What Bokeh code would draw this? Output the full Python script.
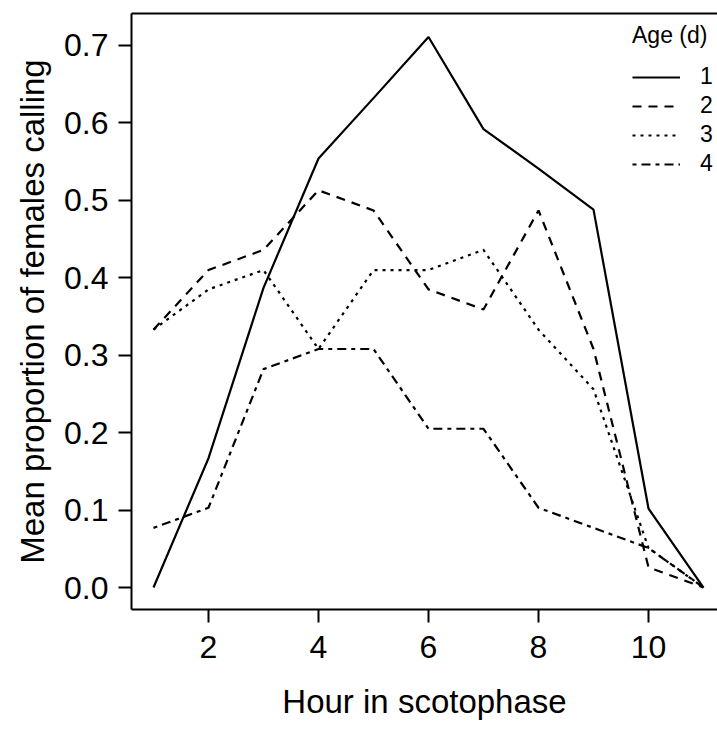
from bokeh.plotting import figure
from bokeh.models import (Range1d, FixedTicker, PrintfTickFormatter, LinearAxis,
                          Legend, LegendItem)
from bokeh.embed import file_html
from bokeh.resources import INLINE

# ---- data ----
hours = [1, 2, 3, 4, 5, 6, 7, 8, 9, 10, 11]
age1 = [0.000, 0.167, 0.387, 0.554, 0.632, 0.711, 0.592, 0.541, 0.488, 0.102, 0.000]
age2 = [0.333, 0.410, 0.436, 0.513, 0.487, 0.385, 0.359, 0.487, 0.308, 0.026, 0.000]
age3 = [0.333, 0.385, 0.410, 0.308, 0.410, 0.410, 0.436, 0.333, 0.256, 0.051, 0.000]
age4 = [0.077, 0.103, 0.282, 0.308, 0.308, 0.205, 0.205, 0.103, 0.077, 0.051, 0.000]
age_labels = ["1", "2", "3", "4"]
x_ticks = [2, 4, 6, 8, 10]
y_ticks = [0.0, 0.1, 0.2, 0.3, 0.4, 0.5, 0.6, 0.7]

FONT = "Liberation Sans"

p = figure(width=717, height=731, output_backend="svg", toolbar_location=None,
           x_range=Range1d(0.6, 11.2545), y_range=Range1d(-0.0284, 0.7413),
           min_border_left=131, min_border_right=0, min_border_top=13,
           min_border_bottom=122, x_axis_label="Hour in scotophase",
           y_axis_label="Mean proportion of females calling")
p.grid.visible = False
p.outline_line_color = None
p.background_fill_color = "white"
p.border_fill_color = "white"

for ax in (p.xaxis[0], p.yaxis[0]):
    ax.axis_line_width = 2
    ax.axis_line_color = "black"
    ax.major_tick_line_width = 2
    ax.major_tick_out = 13
    ax.major_tick_in = 0
    ax.minor_tick_line_color = None
    ax.major_label_text_font = FONT
    ax.major_label_text_font_size = "32px"
    ax.major_label_text_color = "black"
    ax.axis_label_text_font = FONT
    ax.axis_label_text_font_size = "33px"
    ax.axis_label_text_font_style = "normal"
    ax.axis_label_text_color = "black"

p.xaxis[0].ticker = FixedTicker(ticks=x_ticks)
p.xaxis[0].major_label_standoff = 13
p.xaxis[0].axis_label_standoff = 22
p.yaxis[0].ticker = FixedTicker(ticks=y_ticks)
p.yaxis[0].formatter = PrintfTickFormatter(format="%.1f")
p.yaxis[0].major_label_standoff = 10
p.yaxis[0].axis_label_standoff = 10

top = LinearAxis(ticker=FixedTicker(ticks=[]), axis_line_width=2,
                 major_tick_out=0, major_tick_in=0, minor_tick_line_color=None,
                 major_label_text_font_size="0px", major_label_standoff=0)
p.add_layout(top, "above")

r1 = p.line(hours, age1, line_color="black", line_width=2.2)
r2 = p.line(hours, age2, line_color="black", line_width=2.2, line_dash="9 7")
r3 = p.line(hours, age3, line_color="black", line_width=2.2, line_dash="3 5")
r4 = p.line(hours, age4, line_color="black", line_width=2.2, line_dash="4 5 9 5")

legend = Legend(items=[LegendItem(label=lab, renderers=[r]) for lab, r in
                       zip(age_labels, [r1, r2, r3, r4])],
                location=(501, 432), title="Age (d)",
                title_text_font=FONT, title_text_font_size="23px",
                title_text_font_style="normal", title_standoff=14,
                title_text_color="black",
                label_text_font=FONT, label_text_font_size="23px",
                label_text_color="black",
                glyph_width=48, glyph_height=24, label_height=24,
                label_standoff=20, spacing=2, padding=0, margin=0,
                border_line_color=None, background_fill_alpha=0)
p.add_layout(legend, "center")

open("out.html", "w").write(file_html(p, INLINE))
